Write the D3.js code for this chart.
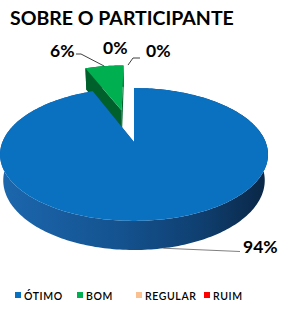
<!DOCTYPE html>
<html>
<head>
<meta charset="utf-8">
<script src="https://cdn.jsdelivr.net/npm/d3@7"></script>
<style>
  body { margin: 0; background: #fff; }
  text { font-family: Lato, "Open Sans", sans-serif; }
</style>
</head>
<body>
<svg id="chart" width="297" height="316"></svg>
<script>
// data
const title = "SOBRE O PARTICIPANTE";
const categories = ["ÓTIMO", "BOM", "REGULAR", "RUIM"];
const values = [94, 6, 0, 0];
const labels = ["94%", "6%", "0%", "0%"];
const topColors = ["#0a70c0", "#00b050", "#fac090", "#ff0000"];
const faceColors = ["#134f8c", "#00602c", "#c08050", "#a00000"];
const explode = [0, 0.55, 0.55, 0.55];

const svg = d3.select("#chart");

// 3d projection of the pie (unit radius, x right, y back, z up)
const cx = 134, cy = 142, s = 131.6;
const sinE = 0.487, cosE = Math.sqrt(1 - sinE * sinE);
const D = 4.65, T = 0.228;
function proj(x, y, z) {
    const up = y * sinE + z * cosE;
    const depth = y * cosE - z * sinE;
    const f = D / (D + depth);
    return [cx + s * x * f, cy - s * up * f];
}

const pie = d3.pie().sort(null).startAngle(0).endAngle(2 * Math.PI);
const arcs = pie(values);
const line = d3.line().curve(d3.curveLinear);

const defs = svg.append("defs");
const grad = defs.append("linearGradient")
    .attr("id", "sideBlue")
    .attr("gradientUnits", "userSpaceOnUse")
    .attr("x1", 0).attr("x2", 268).attr("y1", 0).attr("y2", 0);
[[0, "#1c67ae"], [0.45, "#14528f"], [0.75, "#0f3f70"], [1, "#0a2645"]].forEach(st => {
    grad.append("stop").attr("offset", st[0]).attr("stop-color", st[1]);
});

function slice(d, i) {
    const a0 = d.startAngle, a1 = d.endAngle;
    if (a1 - a0 <= 0) return;
    const m = (a0 + a1) / 2;
    const ox = explode[i] * Math.sin(m), oy = explode[i] * Math.cos(m);
    const pt = (a, r, z) => proj(ox + r * Math.sin(a), oy + r * Math.cos(a), z);
    const n = Math.max(4, Math.ceil((a1 - a0) / 0.02));
    const angles = d3.range(n + 1).map(k => a0 + (a1 - a0) * k / n);

    const g = svg.append("g");
    const side = angles.map(a => pt(a, 1, 0))
        .concat(angles.slice().reverse().map(a => pt(a, 1, -T)));
    g.append("path")
        .attr("d", line(side) + "Z")
        .attr("fill", i === 0 ? "url(#sideBlue)" : faceColors[i]);

    [a1, a0].forEach(a => {
        const face = [pt(a, 0, 0), pt(a, 1, 0), pt(a, 1, -T), pt(a, 0, -T)];
        g.append("path")
            .attr("d", line(face) + "Z")
            .attr("fill", faceColors[i]);
    });

    const top = [pt(a0, 0, 0)].concat(angles.map(a => pt(a, 1, 0)));
    g.append("path")
        .attr("d", line(top) + "Z")
        .attr("fill", topColors[i]);
}

// back slices first
[1, 2, 3, 0].forEach(i => slice(arcs[i], i));

// title
svg.append("text")
    .attr("x", 10).attr("y", 25)
    .attr("font-size", 19.5).attr("font-weight", 700)
    .attr("fill", "#000")
    .text(title);

// data labels with leader lines
function anchor(i, z) {
    const d = arcs[i];
    const m = (d.startAngle + d.endAngle) / 2;
    const ox = explode[i] * Math.sin(m), oy = explode[i] * Math.cos(m);
    return proj(ox + Math.sin(m), oy + Math.cos(m), z);
}
const labelPos = [[243, 253], [50, 57], [103, 54], [146, 57]];
const leaders = [
    { i: 0, z: -T, pts: [[240, 251.5]] },
    { i: 1, z: 0, pts: [[81, 54], [76, 54]] },
    { i: 3, z: 0, dx: -6, pts: [[133, 58], [140, 58]] }
];
leaders.forEach(l => {
    const a = anchor(l.i, l.z);
    a[0] += l.dx || 0;
    svg.append("path")
        .attr("d", line([a].concat(l.pts)))
        .attr("fill", "none")
        .attr("stroke", l.i === 0 ? "#808080" : "#404040")
        .attr("stroke-width", 1);
});
labels.forEach((t, i) => {
    svg.append("text")
        .attr("x", labelPos[i][0]).attr("y", labelPos[i][1])
        .attr("font-size", 17.5).attr("font-weight", 700)
        .attr("fill", "#000")
        .text(t);
});

// legend
const legendX = [15, 77, 136, 204];
const legend = svg.append("g").selectAll("g")
    .data(categories)
    .enter()
    .append("g")
    .attr("transform", (d, i) => `translate(${legendX[i]},292)`);
legend.append("rect")
    .attr("width", 6).attr("height", 6)
    .attr("fill", (d, i) => topColors[i]);
legend.append("text")
    .attr("x", 9).attr("y", 7.5)
    .attr("font-size", 10.5).attr("font-weight", 600)
    .attr("letter-spacing", 0.6)
    .attr("fill", "#000")
    .text(d => d);
</script>
</body>
</html>
